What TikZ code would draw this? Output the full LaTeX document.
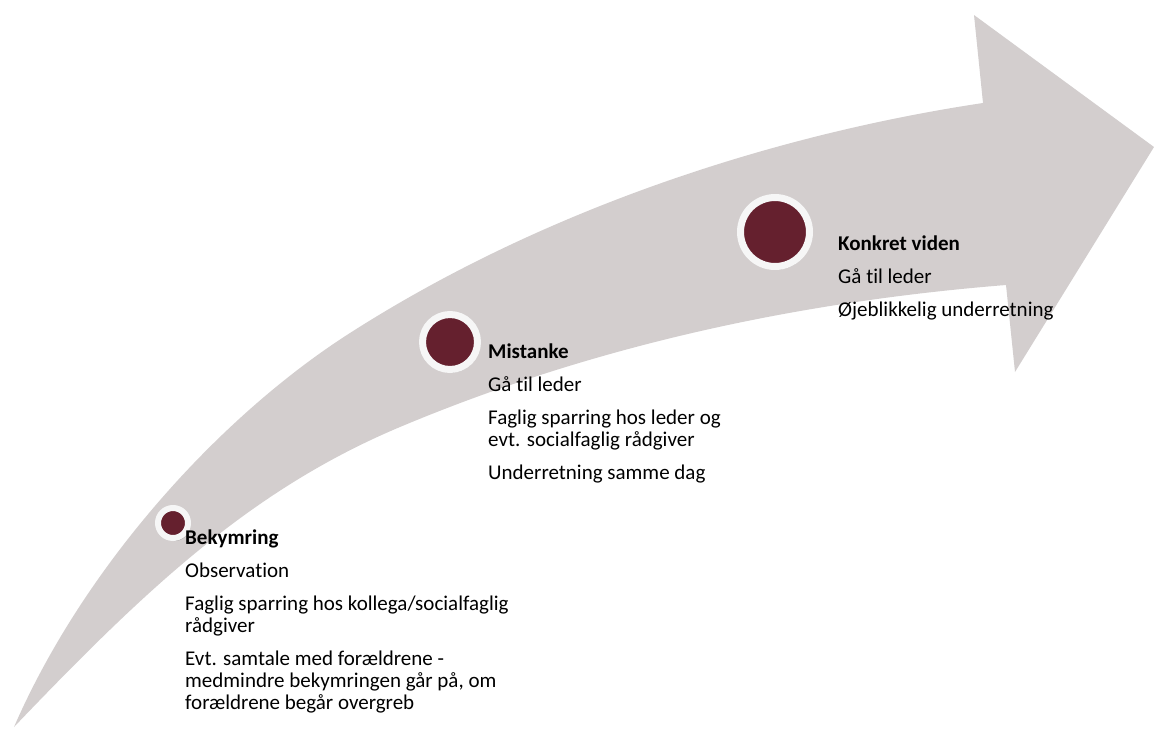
\documentclass[tikz,border=0pt]{standalone}
\usepackage{fontspec}
\setmainfont{Carlito}[Ligatures=NoCommon]
\usetikzlibrary{positioning,shadows}
\definecolor{arrowgray}{RGB}{211,206,206}
\definecolor{maroon}{RGB}{101,32,46}
\definecolor{ringwhite}{RGB}{246,246,246}
\begin{document}
\begin{tikzpicture}[x=1pt,y=-1pt,
        dot/.style={circle,fill=maroon,draw=ringwhite,inner sep=0pt,line width=7pt,
            drop shadow={shadow xshift=1.5pt,shadow yshift=-3pt,opacity=0.25,fill=black}},
        txt/.style={anchor=north west,inner sep=0pt,align=left,
            font=\fontsize{21}{22}\selectfont}]
        \useasboundingbox (0,0) rectangle (1154,729);
        \fill[arrowgray] (14,727) .. controls (84,566) and (220,416) .. (350,333)
            .. controls (550,205) and (783,133) .. (983,103)
            -- (974,15) -- (1154,147) -- (1015,372) -- (1006,285)
            .. controls (806,301) and (600,343) .. (400,427)
            .. controls (250,490) and (144,591) .. cycle;
        \node[dot,minimum size=30pt,line width=6pt] (bek) at (173,523) {};
        \node[dot,minimum size=55pt] (mis) at (450,342) {};
        \node[dot,minimum size=69pt] (kon) at (775,232) {};
        \node[txt] (bektxt) at (185,530) {\textbf{Bekymring}\\[11pt]
            Observation\\[11pt]
            Faglig sparring hos kollega/socialfaglig\\rådgiver\\[11pt]
            Evt. samtale med forældrene -\\medmindre bekymringen går på, om\\forældrene begår overgreb};
        \node[txt] (mistxt) at (488,344) {\textbf{Mistanke}\\[11pt]
            Gå til leder\\[11pt]
            Faglig sparring hos leder og\\evt. socialfaglig rådgiver\\[11pt]
            Underretning samme dag};
        \node[txt] (kontxt) at (838,236) {\textbf{Konkret viden}\\[11pt]
            Gå til leder\\[11pt]
            Øjeblikkelig underretning};
    \end{tikzpicture}
\end{document}
